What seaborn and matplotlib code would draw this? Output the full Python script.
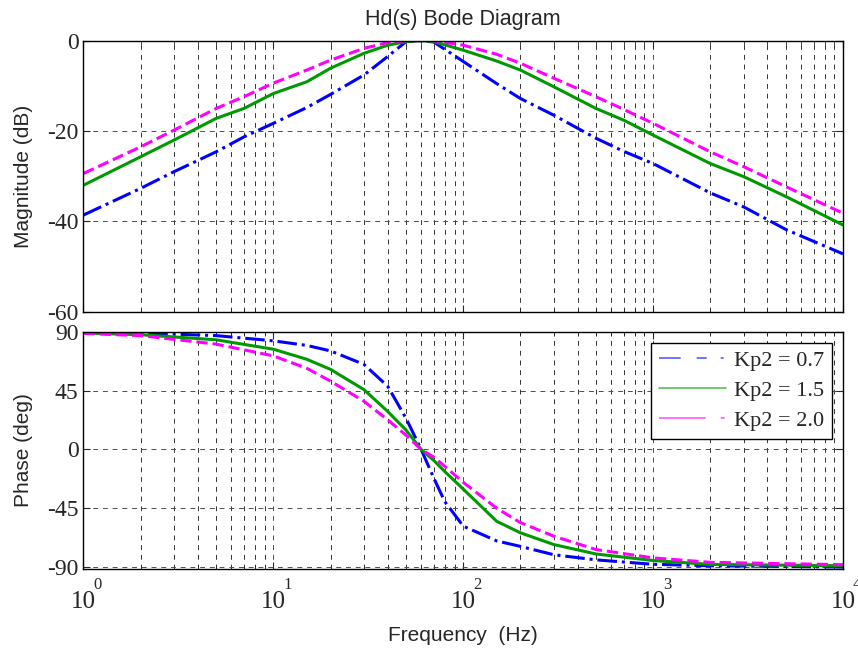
import numpy as np
import pandas as pd
import matplotlib
matplotlib.use("Agg")
import matplotlib.pyplot as plt
from matplotlib.lines import Line2D
import matplotlib.ticker as mticker
import matplotlib.transforms as mtransforms
import seaborn as sns

# ---------------- data ----------------
mag_freq = [1, 2, 3, 5, 7, 10, 15, 20, 30, 40, 50, 60, 70, 100, 150, 200,
            300, 500, 700, 1000, 2000, 3000, 5000, 10000]
mag_kp07 = [-38.6, -32.7, -29.0, -24.6, -21.3, -18.3, -14.8, -11.9, -7.6, -3.5,
            -0.2, 0.0, -0.3, -4.6, -9.5, -12.8, -16.5, -21.6, -24.5, -27.2,
            -33.7, -36.8, -41.8, -47.2]
mag_kp15 = [-32.0, -25.7, -22.0, -17.2, -15.0, -11.7, -9.1, -6.1, -2.8, -1.0,
            -0.2, 0.0, -0.2, -2.1, -4.5, -6.5, -10.2, -15.0, -17.6, -20.9,
            -27.2, -30.1, -34.5, -40.8]
mag_kp20 = [-29.4, -23.5, -19.8, -15.0, -12.4, -9.4, -6.5, -4.3, -1.7, -0.4,
            0.0, 0.0, 0.0, -1.0, -3.0, -5.0, -8.3, -12.4, -15.2, -18.3,
            -24.6, -27.9, -32.3, -38.2]

ph_freq = [1, 2, 5, 10, 15, 20, 30, 40, 50, 60, 70, 80, 100, 150, 200, 300,
           500, 1000, 2000, 10000]
ph_kp07 = [89.5, 89.0, 87.0, 83.0, 79.5, 75.3, 65.0, 48.3, 23.7, 0.0, -22.0,
           -40.0, -58.7, -70.0, -74.2, -80.6, -84.5, -87.9, -89.0, -90.0]
ph_kp15 = [89.0, 87.7, 83.8, 76.6, 68.9, 61.2, 45.7, 29.0, 14.7, 0.0, -8.5,
           -17.0, -30.4, -55.0, -63.8, -72.8, -80.0, -85.0, -88.0, -89.0]
ph_kp20 = [88.7, 87.0, 80.5, 71.5, 62.0, 52.2, 36.8, 22.6, 10.8, 0.0, -6.0,
           -13.0, -25.2, -45.0, -56.0, -66.4, -76.6, -83.0, -86.4, -88.2]

labels = ["Kp2 = 0.7", "Kp2 = 1.5", "Kp2 = 2.0"]
x_ticks = [1, 10, 100, 1000, 10000]
x_exponents = ["0", "1", "2", "3", "4"]
mag_ticks = [-60, -40, -20, 0]
ph_ticks = [-90, -45, 0, 45, 90]

# ---------------- style ----------------
sns.set_style("white")
plt.rcParams["font.family"] = ["Liberation Sans", "DejaVu Sans"]

colors = ["#0000ff", "#009900", "#ff00ff"]
styles = ["-.", "-", "--"]
serif = ["Liberation Serif", "DejaVu Serif"]

fig = plt.figure(figsize=(8.58, 6.5), dpi=100)
ax1 = fig.add_axes([0.0973, 0.5205, 0.8852, 0.4169])
ax2 = fig.add_axes([0.0973, 0.1246, 0.8852, 0.3651])

mag_df = pd.DataFrame({"f": mag_freq * 3,
                       "v": mag_kp07 + mag_kp15 + mag_kp20,
                       "s": sum([[l] * len(mag_freq) for l in labels], [])})
ph_df = pd.DataFrame({"f": ph_freq * 3,
                      "v": ph_kp07 + ph_kp15 + ph_kp20,
                      "s": sum([[l] * len(ph_freq) for l in labels], [])})

for lab, c, ls in zip(labels, colors, styles):
    d = mag_df[mag_df.s == lab]
    sns.lineplot(data=d, x="f", y="v", ax=ax1, color=c, linestyle=ls,
                 linewidth=2.2, legend=False, sort=False)
    d = ph_df[ph_df.s == lab]
    sns.lineplot(data=d, x="f", y="v", ax=ax2, color=c, linestyle=ls,
                 linewidth=2.2, legend=False, sort=False)

for ax in (ax1, ax2):
    ax.set_xscale("log")
    ax.set_xlim(1, 10000)
    ax.set_xticks(x_ticks)
    ax.xaxis.set_minor_locator(mticker.LogLocator(base=10, subs=np.arange(2, 10)))
    ax.grid(True, which="major", axis="both", linestyle=(0, (5, 5)),
            color="0.3", linewidth=0.7)
    ax.grid(True, which="minor", axis="x", linestyle=(0, (5, 5)),
            color="0.2", linewidth=0.7)
    ax.tick_params(which="both", direction="in", top=True, right=True,
                   bottom=True, left=True)
    ax.tick_params(which="major", length=5, width=0.8)
    ax.tick_params(which="minor", length=3, width=0.6)
    for sp in ax.spines.values():
        sp.set_color("black")
        sp.set_linewidth(1.0)
    ax.set_xlabel("")
    ax.set_ylabel("")

ax1.set_ylim(-60, 0)
ax1.set_yticks(mag_ticks)
ax1.set_yticklabels([str(t) for t in mag_ticks], fontfamily=serif, fontsize=17)
ax1.xaxis.set_major_formatter(mticker.NullFormatter())
ax1.xaxis.set_minor_formatter(mticker.NullFormatter())
ax1.set_ylabel("Magnitude (dB)", fontsize=15)
ax1.yaxis.set_label_coords(-0.067, 0.5)
ax1.set_title("Hd(s) Bode Diagram", fontsize=15.5, pad=11)

ax2.set_ylim(-91.5, 90)
ax2.set_yticks(ph_ticks)
ax2.set_yticklabels([str(t) for t in ph_ticks], fontfamily=serif, fontsize=17)
ax2.set_xticklabels(["10"] * len(x_ticks), fontfamily=serif, fontsize=18)
ax2.xaxis.set_minor_formatter(mticker.NullFormatter())
ax2.tick_params(axis="x", which="major", pad=16)
ax2.set_ylabel("Phase (deg)", fontsize=15)
ax2.yaxis.set_label_coords(-0.067, 0.5)
ax2.set_xlabel("Frequency  (Hz)", fontsize=15, labelpad=9)

# exponents of the decade labels, placed relative to each tick
base_tr = mtransforms.blended_transform_factory(ax2.transData, ax2.transAxes)
exp_tr = mtransforms.offset_copy(base_tr, fig=fig, x=10, y=-16, units="dots")
for t, e in zip(x_ticks, x_exponents):
    ax2.text(t, 0, e, transform=exp_tr, ha="left", va="center",
             fontfamily=serif, fontsize=12, clip_on=False)

handles = [
    Line2D([], [], color=colors[0], lw=1.2, alpha=0.65,
           linestyle=(0, (13, 9.6, 6, 8.4, 1.8, 8))),
    Line2D([], [], color=colors[1], lw=1.2, alpha=0.65, linestyle="-"),
    Line2D([], [], color=colors[2], lw=1.2, alpha=0.65,
           linestyle=(0, (28, 9, 2.4, 8))),
]
leg = ax2.legend(handles, labels, loc="upper right",
                 bbox_to_anchor=(0.985, 0.954), borderaxespad=0,
                 prop={"family": serif, "size": 16}, frameon=True,
                 fancybox=False, framealpha=1, edgecolor="black",
                 handlelength=3.0, handletextpad=0.35, labelspacing=0.42,
                 borderpad=0.35)
leg.get_frame().set_linewidth(1.0)

fig.savefig("out.png", dpi=100)
